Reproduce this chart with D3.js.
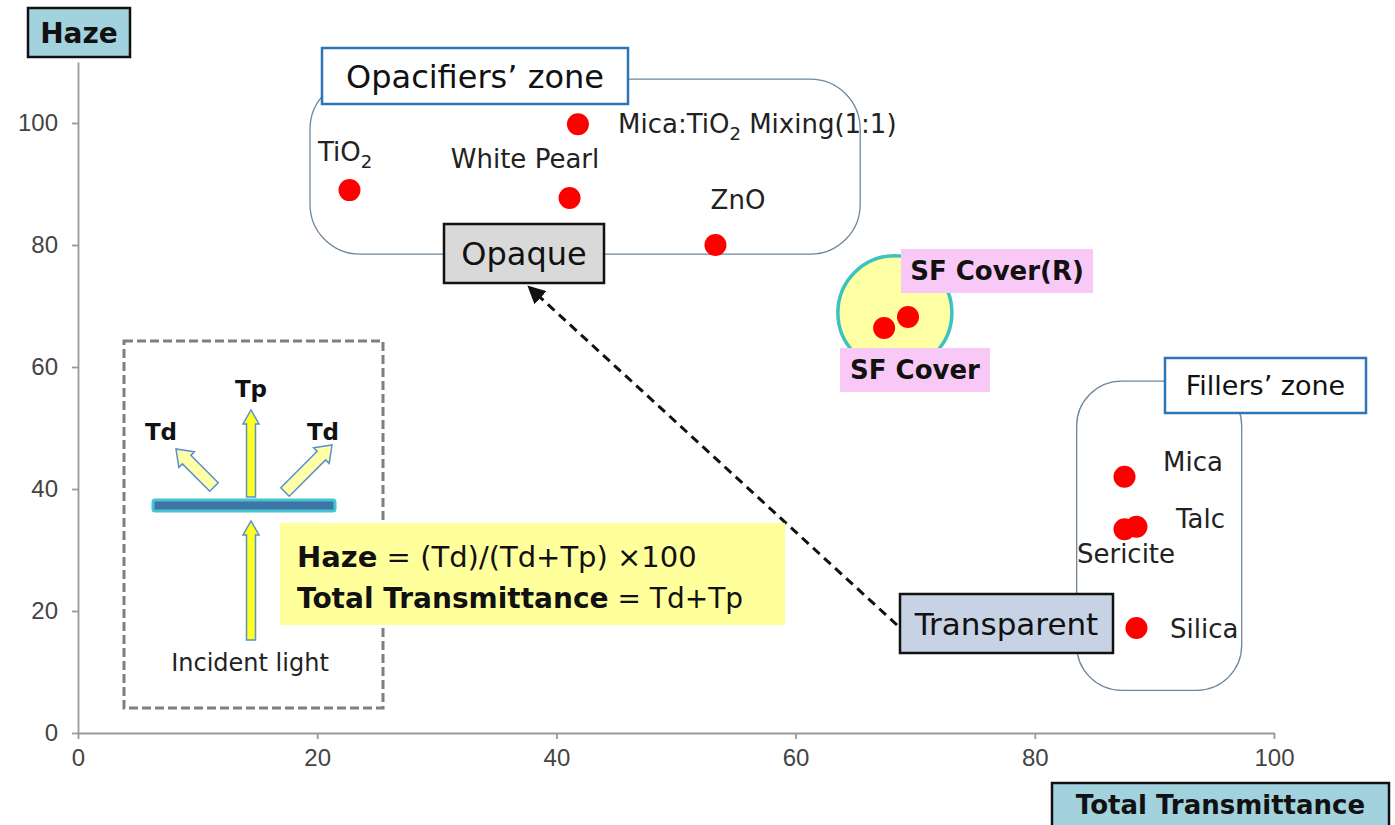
<!DOCTYPE html>
<html>
<head>
<meta charset="utf-8">
<script src="https://cdn.jsdelivr.net/npm/d3@7"></script>
<style>
  body { margin: 0; background: #fff; }
  svg { font-family: "DejaVu Sans", sans-serif; }
</style>
</head>
<body>
<div id="chart"></div>
<script>
// datos
const materiales = ["TiO2", "Mica:TiO2", "White Pearl", "ZnO", "SF Cover", "SF Cover(R)", "Mica", "Talc", "Sericite", "Silica"]
const transmitancia = [22.7, 41.8, 41.1, 53.3, 67.4, 69.4, 87.5, 88.5, 87.5, 88.5]
const haze = [89.0, 99.8, 87.7, 80.0, 66.4, 68.2, 42.0, 33.8, 33.4, 17.2]
const ticksX = [0, 20, 40, 60, 80, 100]
const ticksY = [0, 20, 40, 60, 80, 100]

const anchoTotal = 1395
const altoTotal = 825

const svg = d3.select("#chart")
  .append("svg")
  .attr("width", anchoTotal)
  .attr("height", altoTotal)

const x = d3.scaleLinear().domain([0, 100]).range([78, 1274])
const y = d3.scaleLinear().domain([0, 110]).range([733, 62])

// ejes
const xAxis = d3.axisBottom(x).tickValues(ticksX).tickSize(6).tickPadding(10).tickSizeOuter(0)
const yAxis = d3.axisLeft(y).tickValues(ticksY).tickSize(6).tickPadding(14).tickSizeOuter(0)
const gx = svg.append("g").attr("transform", `translate(0, ${y(0)})`).call(xAxis)
const gy = svg.append("g").attr("transform", `translate(${x(0)}, 0)`).call(yAxis)
;[gx, gy].forEach(g => {
  g.attr("font-size", 24).attr("font-family", "'Liberation Sans', sans-serif")
  g.selectAll("text").style("font-size", "24px").attr("fill", "#444")
  g.selectAll("path, line").attr("stroke", "#9a9a9a").attr("stroke-width", 1.8)
})

// cajas de titulo de ejes
const tituloCaja = (x0, y0, w, h, texto, size) => {
  svg.append("rect").attr("x", x0).attr("y", y0).attr("width", w).attr("height", h)
    .attr("fill", "#a3d2df").attr("stroke", "#111").attr("stroke-width", 2.5)
  svg.append("text").attr("x", x0 + w / 2).attr("y", y0 + h / 2 + size * 0.36)
    .attr("text-anchor", "middle").attr("font-weight", "bold").attr("font-size", size)
    .attr("fill", "#111").text(texto)
}
tituloCaja(28, 8, 102, 49, "Haze", 28)
tituloCaja(1052, 783, 337, 44, "Total Transmittance", 26)

// zonas
const zona = (x0, x1, y0, y1, r) => {
  svg.append("rect")
    .attr("x", x(x0)).attr("y", y(y0))
    .attr("width", x(x1) - x(x0)).attr("height", y(y1) - y(y0))
    .attr("rx", r).attr("ry", r)
    .attr("fill", "none").attr("stroke", "#6f879c").attr("stroke-width", 1.3)
}
zona(19.4, 65.4, 107.2, 78.5, 50)
zona(83.5, 97.3, 57.7, 7.0, 45)

// circulo SF
svg.append("circle").attr("cx", x(68.3)).attr("cy", y(68.9)).attr("r", 57)
  .attr("fill", "#ffffa3").attr("stroke", "#3cc2c0").attr("stroke-width", 3.5)

const etiquetaCaja = (x0, y0, w, h, texto, opts) => {
  svg.append("rect").attr("x", x0).attr("y", y0).attr("width", w).attr("height", h)
    .attr("fill", opts.fill).attr("stroke", opts.stroke || "none").attr("stroke-width", opts.sw || 0)
  svg.append("text").attr("x", x0 + w / 2)
    .attr("y", y0 + h / 2 + opts.size * 0.36)
    .attr("text-anchor", "middle")
    .attr("font-size", opts.size).attr("font-weight", opts.bold ? "bold" : "normal")
    .attr("fill", "#111").text(texto)
}
etiquetaCaja(322, 48, 306, 56, "Opacifiers\u2019 zone", { fill: "#fff", stroke: "#2e75b6", sw: 2.5, size: 32 })
etiquetaCaja(1165, 358, 201, 55, "Fillers\u2019 zone", { fill: "#fff", stroke: "#2e75b6", sw: 2.5, size: 27 })
etiquetaCaja(444, 224, 160, 59, "Opaque", { fill: "#d9d9d9", stroke: "#111", sw: 2.5, size: 32 })
etiquetaCaja(900, 594, 213, 59, "Transparent", { fill: "#c7d3e4", stroke: "#111", sw: 2.5, size: 31 })
etiquetaCaja(901, 249, 192, 44, "SF Cover(R)", { fill: "#f8c8f6", size: 26, bold: true })
etiquetaCaja(840, 348, 150, 44, "SF Cover", { fill: "#f8c8f6", size: 26, bold: true })

// flecha discontinua
svg.append("defs").append("marker").attr("id", "punta")
  .attr("viewBox", "0 0 10 10").attr("refX", 8).attr("refY", 5)
  .attr("markerWidth", 6).attr("markerHeight", 6).attr("orient", "auto")
  .append("path").attr("d", "M0,0 L10,5 L0,10 z").attr("fill", "#111")
svg.append("line").attr("x1", 897).attr("y1", 625).attr("x2", 530).attr("y2", 288)
  .attr("stroke", "#111").attr("stroke-width", 3).attr("stroke-dasharray", "9,6")
  .attr("marker-end", "url(#punta)")

// recuadro del esquema
svg.append("rect").attr("x", 124).attr("y", 341).attr("width", 259).attr("height", 367)
  .attr("fill", "none").attr("stroke", "#7f7f7f").attr("stroke-width", 3).attr("stroke-dasharray", "9,4")

const flecha = (x1, y1, x2, y2, sw, hw, hl, fill) => {
  const ang = Math.atan2(y2 - y1, x2 - x1)
  const len = Math.hypot(x2 - x1, y2 - y1)
  const pts = [[0, -sw / 2], [len - hl, -sw / 2], [len - hl, -hw / 2], [len, 0],
    [len - hl, hw / 2], [len - hl, sw / 2], [0, sw / 2]]
  svg.append("polygon")
    .attr("points", pts.map(p => p.join(",")).join(" "))
    .attr("transform", `translate(${x1},${y1}) rotate(${ang * 180 / Math.PI})`)
    .attr("fill", fill).attr("stroke", "#5a8fd0").attr("stroke-width", 1.5)
}
svg.append("rect").attr("x", 153).attr("y", 500).attr("width", 182).attr("height", 11)
  .attr("fill", "#3f74a8").attr("stroke", "#45c3cf").attr("stroke-width", 3).attr("rx", 2)
flecha(251, 640, 251, 521, 9, 16, 14, "#ffff22")
flecha(251, 497, 251, 410, 9, 16, 14, "#ffff22")
flecha(214, 487, 176, 449, 12, 22, 15, "#ffffa8")
flecha(285, 492, 332, 445, 12, 22, 15, "#ffffa8")
const textoInset = (px, py, s, bold) => svg.append("text").attr("x", px).attr("y", py)
  .attr("text-anchor", "middle").attr("font-weight", bold ? "bold" : "normal")
  .attr("font-size", bold ? 23 : 24).attr("fill", bold ? "#111" : "#222").text(s)
textoInset(161, 440, "Td", true)
textoInset(323, 440, "Td", true)
textoInset(251, 397, "Tp", true)
textoInset(250, 671, "Incident light", false)

// formula
svg.append("rect").attr("x", 280).attr("y", 523).attr("width", 505).attr("height", 102).attr("fill", "#ffff9c")
const f1 = svg.append("text").attr("x", 297).attr("y", 567).attr("font-size", 29).attr("fill", "#111")
f1.append("tspan").attr("font-weight", "bold").text("Haze")
f1.append("tspan").text(" = (Td)/(Td+Tp) \u00d7100")
const f2 = svg.append("text").attr("x", 297).attr("y", 608).attr("font-size", 28).attr("fill", "#111")
f2.append("tspan").attr("font-weight", "bold").text("Total Transmittance")
f2.append("tspan").text(" = Td+Tp")

// puntos
const datos = materiales.map((m, i) => ({ m, t: transmitancia[i], h: haze[i] }))
svg.selectAll("circle.punto").data(datos).enter().append("circle")
  .classed("punto", true)
  .attr("cx", d => x(d.t)).attr("cy", d => y(d.h)).attr("r", 11)
  .attr("fill", "#ff0000")

// etiquetas de los puntos
const etiqueta = (px, py, anchor, partes) => {
  const t = svg.append("text").attr("x", px).attr("y", py).attr("text-anchor", anchor)
    .attr("font-size", 26).attr("fill", "#222")
  partes.forEach(p => {
    if (p.sub) t.append("tspan").attr("font-size", 18).attr("dy", 7).text(p.s)
    else t.append("tspan").attr("dy", p.up ? -7 : 0).text(p.s)
  })
}
etiqueta(318, 161, "start", [{ s: "TiO" }, { s: "2", sub: true }])
etiqueta(525, 168, "middle", [{ s: "White Pearl" }])
etiqueta(618, 133, "start", [{ s: "Mica:TiO" }, { s: "2", sub: true }, { s: " Mixing(1:1)", up: true }])
etiqueta(738, 209, "middle", [{ s: "ZnO" }])
etiqueta(1163, 471, "start", [{ s: "Mica" }])
etiqueta(1176, 528, "start", [{ s: "Talc" }])
etiqueta(1126, 563, "middle", [{ s: "Sericite" }])
etiqueta(1170, 638, "start", [{ s: "Silica" }])
</script>
</body>
</html>
